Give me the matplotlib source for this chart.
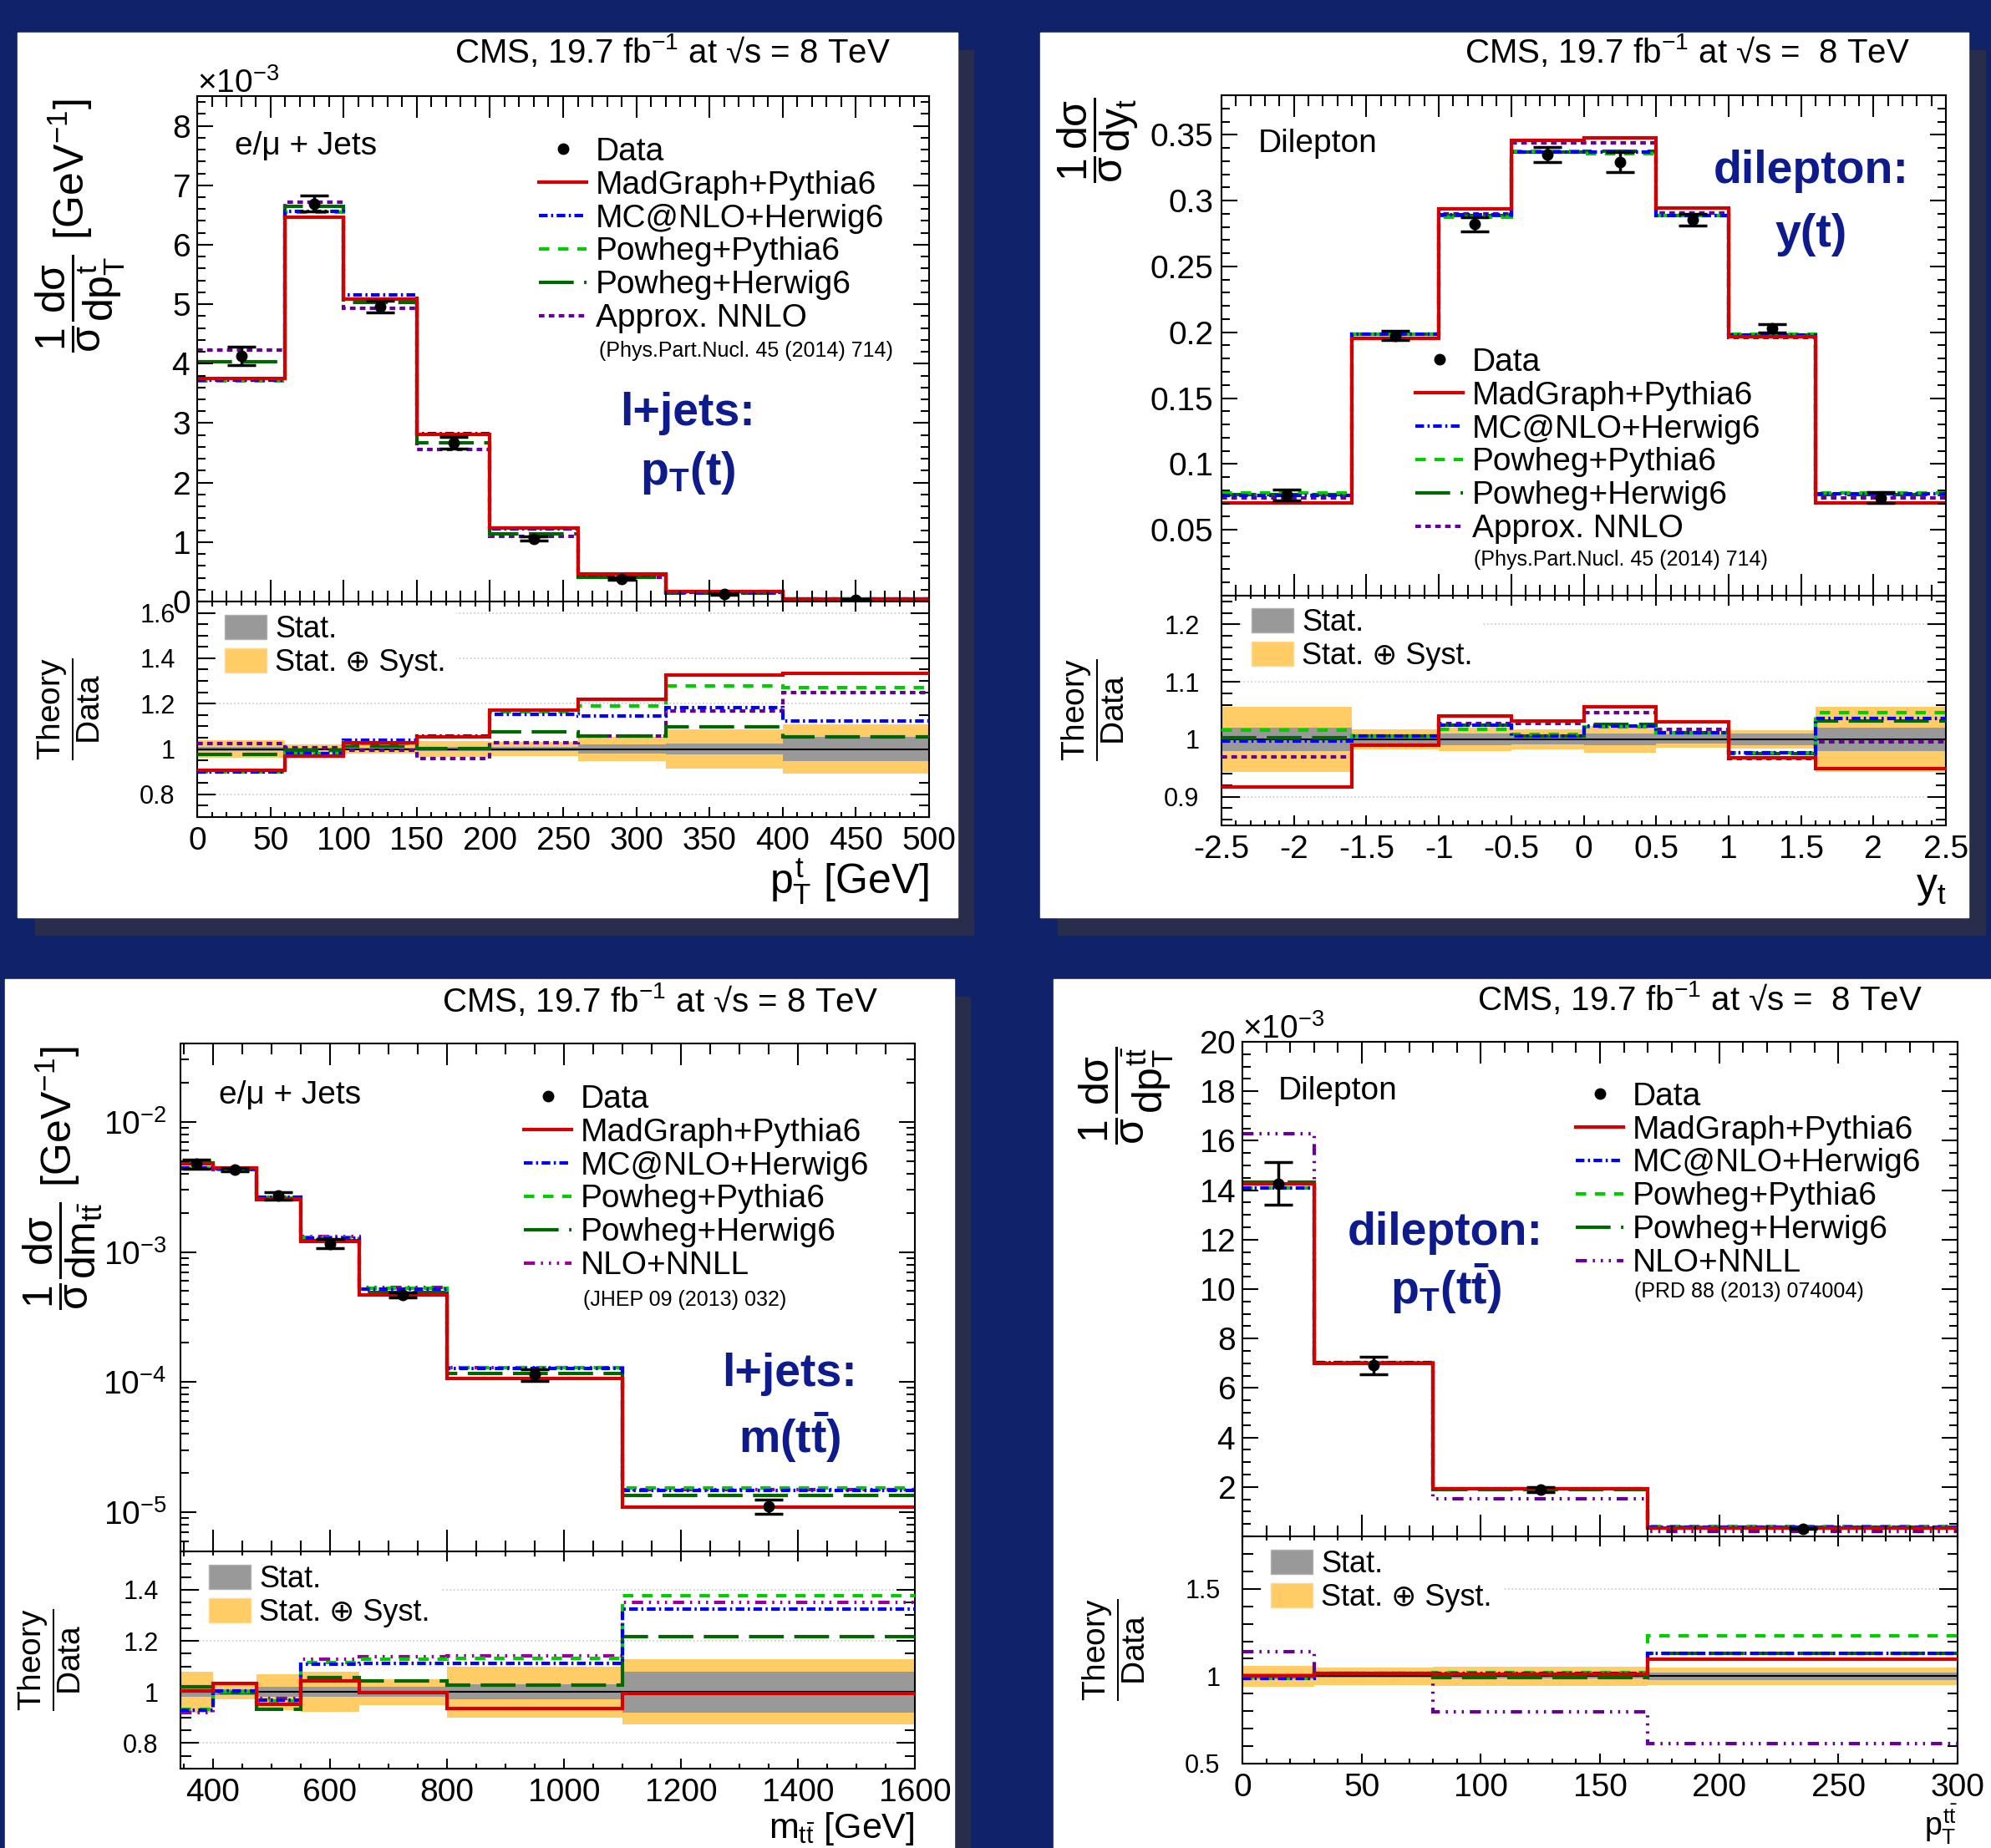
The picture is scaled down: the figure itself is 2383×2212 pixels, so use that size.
import numpy as np
import matplotlib
matplotlib.use("Agg")
import matplotlib.pyplot as plt
from matplotlib.lines import Line2D
from matplotlib.patches import Rectangle, Patch
from matplotlib.ticker import (MultipleLocator, FixedLocator, FuncFormatter,
                               ScalarFormatter, LogLocator, NullFormatter)

plt.rcParams["font.family"] = ["Liberation Sans", "DejaVu Sans"]
plt.rcParams["mathtext.fontset"] = "custom"
plt.rcParams["mathtext.rm"] = "Liberation Sans"
plt.rcParams["mathtext.it"] = "Liberation Sans"
plt.rcParams["mathtext.bf"] = "Liberation Sans:bold"
plt.rcParams["axes.unicode_minus"] = False

W, H = 2383, 2212

# ---------------- data ----------------
# l+jets, pT(t)   (data in 1/GeV, ratios = theory/data)
pt_edges = [0, 60, 100, 150, 200, 260, 320, 400, 500]
pt_data = [4.13e-3, 6.69e-3, 4.96e-3, 2.67e-3, 1.06e-3, 0.386e-3, 0.128e-3, 0.035e-3]
pt_stat = [0.008, 0.006, 0.006, 0.008, 0.010, 0.020, 0.025, 0.055]
pt_syst = [0.038, 0.020, 0.020, 0.035, 0.030, 0.055, 0.085, 0.110]
pt_madgraph = [0.907, 0.967, 1.026, 1.053, 1.172, 1.218, 1.325, 1.335]
pt_mcatnlo = [0.900, 0.980, 1.040, 1.056, 1.154, 1.147, 1.181, 1.125]
pt_powpyt = [0.897, 0.979, 1.025, 1.054, 1.165, 1.191, 1.279, 1.270]
pt_powher = [0.977, 0.993, 1.013, 1.001, 1.075, 1.059, 1.099, 1.055]
pt_nnlo = [1.025, 1.004, 0.993, 0.956, 1.028, 1.059, 1.169, 1.249]

# dilepton, y(t)
y_edges = [-2.5, -1.6, -1.0, -0.5, 0.0, 0.5, 1.0, 1.6, 2.5]
y_data = [0.0765, 0.1975, 0.2820, 0.3350, 0.3290, 0.2855, 0.2030, 0.0745]
y_stat = [0.020, 0.008, 0.010, 0.009, 0.010, 0.008, 0.010, 0.020]
y_syst = [0.057, 0.017, 0.020, 0.017, 0.023, 0.015, 0.016, 0.057]
y_madgraph = [0.917, 0.990, 1.041, 1.032, 1.056, 1.031, 0.968, 0.949]
y_mcatnlo = [0.997, 1.005, 1.025, 1.005, 1.023, 1.012, 0.976, 1.036]
y_powpyt = [1.016, 1.006, 1.018, 1.008, 1.021, 1.012, 0.977, 1.047]
y_powher = [1.003, 1.005, 1.024, 1.005, 1.026, 1.011, 0.975, 1.032]
y_nnlo = [0.969, 0.990, 1.027, 1.027, 1.046, 1.017, 0.966, 0.996]

# l+jets, m(ttbar)
m_edges = [345, 400, 475, 550, 650, 800, 1100, 1600]
m_data = [4.73e-3, 4.31e-3, 2.70e-3, 1.16e-3, 4.68e-4, 1.14e-4, 1.11e-5]
m_stat = [0.020, 0.012, 0.020, 0.020, 0.020, 0.030, 0.080]
m_syst = [0.080, 0.030, 0.070, 0.078, 0.050, 0.100, 0.127]
m_madgraph = [1.005, 1.032, 0.951, 1.043, 0.997, 0.934, 0.993]
m_mcatnlo = [0.928, 1.005, 0.969, 1.108, 1.111, 1.111, 1.325]
m_powpyt = [0.931, 1.000, 0.966, 1.115, 1.128, 1.131, 1.376]
m_powher = [1.022, 0.997, 0.931, 1.055, 1.043, 1.027, 1.216]
m_nnll = [0.920, 1.000, 0.975, 1.128, 1.137, 1.141, 1.352]

# dilepton, pT(ttbar)
ptt_edges = [0, 30, 80, 170, 300]
ptt_data = [14.27e-3, 6.91e-3, 1.90e-3, 0.32e-3]
ptt_stat = [0.015, 0.010, 0.012, 0.022]
ptt_syst = [0.060, 0.050, 0.055, 0.052]
ptt_madgraph = [1.000, 1.014, 1.011, 1.098]
ptt_mcatnlo = [0.987, 1.016, 1.014, 1.130]
ptt_powpyt = [0.987, 1.016, 1.019, 1.233]
ptt_powher = [1.003, 1.016, 0.990, 1.130]
ptt_nnll = [1.141, 1.010, 0.797, 0.614]

# tick values
y_main_ticks = [0.05, 0.1, 0.15, 0.2, 0.25, 0.3, 0.35]
ptt_main_ticks = [2e-3, 4e-3, 6e-3, 8e-3, 10e-3, 12e-3, 14e-3, 16e-3, 18e-3, 20e-3]

# ---------------- styles ----------------
NAVY = "#10226a"
SHADOW = "#272d4b"
YELLOW = "#ffcc66"
GREY = "#999999"
BLUE_TXT = "#0d1b8c"

ST_MG = dict(color="#d40000", linestyle="-", linewidth=3)
ST_MC = dict(color="#0000ff", linestyle=(0, (2.5, 1.0, 0.6, 1.0)), linewidth=3)
ST_PP = dict(color="#00cc00", linestyle=(0, (3.0, 2.5)), linewidth=3)
ST_PH = dict(color="#006600", linestyle=(0, (10, 3)), linewidth=3)
ST_NNLO = dict(color="#660099", linestyle=(0, (1.6, 1.25)), linewidth=3)
NNLL_DASH = (0, (3.2, 1.7, 0.6, 1.7, 0.6, 1.7, 0.6, 1.7))
ST_NNLL3 = dict(color="#990099", linestyle=NNLL_DASH, linewidth=3)
ST_NNLL4 = dict(color="#660099", linestyle=NNLL_DASH, linewidth=3)

fig = plt.figure(figsize=(W / 100, H / 100), dpi=100)
fig.patch.set_facecolor(NAVY)


def fx(x):
    return x / W


def fy(y):
    return 1 - y / H


def rect(x0, y0, x1, y1):
    return [x0 / W, 1 - y1 / H, (x1 - x0) / W, (y1 - y0) / H]


def box(x0, y0, x1, y1, color):
    fig.patches.append(Rectangle((x0 / W, 1 - y1 / H), (x1 - x0) / W, (y1 - y0) / H,
                                 transform=fig.transFigure, color=color, zorder=-10))


def gfmt(v, pos):
    return "%g" % round(v, 6)


def draw(ax, rax, edges, data, stat, syst, theories):
    edges = np.asarray(edges, float)
    data = np.asarray(data)
    stat = np.asarray(stat)
    syst = np.asarray(syst)
    centers = 0.5 * (edges[1:] + edges[:-1])
    for label, ratio, st in theories[::-1]:
        ax.stairs(data * np.asarray(ratio), edges, baseline=None, **st)
    ax.errorbar(centers, data, yerr=data * syst, fmt="o", color="k", ms=9,
                elinewidth=2.5, capsize=12, capthick=2.5, zorder=10)
    rax.stairs(1 + syst, edges, baseline=1 - syst, fill=True, color=YELLOW)
    rax.stairs(1 + stat, edges, baseline=1 - stat, fill=True, color=GREY)
    rax.axhline(1, color="k", lw=1.5, zorder=2)
    for label, ratio, st in theories[::-1]:
        rax.stairs(ratio, edges, baseline=None, zorder=3, **st)
    rax.yaxis.grid(True, linestyle=":", color="#c8c8c8", linewidth=1.2)
    rax.set_axisbelow(True)


def style(ax, rax, ypad_main=6, ypad_ratio=19):
    for a in (ax, rax):
        for s in a.spines.values():
            s.set_linewidth(1.5)
        a.tick_params(which="both", direction="in", top=True, right=True, width=1.5)
    ax.tick_params(axis="x", which="major", length=18.5)
    ax.tick_params(axis="x", which="minor", length=9.5)
    ax.tick_params(axis="y", which="major", length=13.5, labelsize=28, pad=ypad_main)
    ax.tick_params(axis="y", which="minor", length=7)
    ax.tick_params(labelbottom=False)
    rax.tick_params(axis="x", which="major", length=8.6, labelsize=28, pad=8)
    rax.tick_params(axis="x", which="minor", length=4.3)
    rax.tick_params(axis="y", which="major", length=16, labelsize=22, pad=ypad_ratio)
    rax.tick_params(axis="y", which="minor", length=9)
    rax.yaxis.set_major_formatter(FuncFormatter(gfmt))
    rax.xaxis.set_major_formatter(FuncFormatter(gfmt))


def main_legend(ax, last_label, x_left, y_first):
    handles = [Line2D([], [], marker="o", color="k", ls="none", ms=9),
               Line2D([], [], **ST_MG), Line2D([], [], **ST_MC),
               Line2D([], [], **ST_PP), Line2D([], [], **ST_PH),
               Line2D([], [], **last_label[1])]
    labels = ["Data", "MadGraph+Pythia6", "MC@NLO+Herwig6", "Powheg+Pythia6",
              "Powheg+Herwig6", last_label[0]]
    fs = 28 * 100 / 72
    ax.legend(handles, labels, loc="upper left",
              bbox_to_anchor=(fx(x_left), fy(y_first - 0.47 * fs)),
              bbox_transform=fig.transFigure, frameon=False, fontsize=28,
              handlelength=1.47, handletextpad=0.28, labelspacing=0.1,
              borderpad=0, borderaxespad=0)


def ratio_legend(rax, x_left, y_first):
    handles = [Patch(facecolor=GREY, edgecolor="#b0b0b0"),
               Patch(facecolor=YELLOW, edgecolor="#ffd990")]
    fs = 26 * 100 / 72
    pad = 0.3
    rax.legend(handles, ["Stat.", "Stat. \u2295 Syst."], loc="upper left",
               bbox_to_anchor=(fx(x_left - pad * fs), fy(y_first - 0.47 * fs - pad * fs)),
               bbox_transform=fig.transFigure, frameon=True, fancybox=False,
               facecolor="white", edgecolor="white", framealpha=1, fontsize=26,
               handlelength=1.39, handleheight=0.83, handletextpad=0.28,
               labelspacing=0.14, borderpad=pad, borderaxespad=0)


def header(x_right, y, text):
    fig.text(fx(x_right), fy(y), text, ha="right", va="center", fontsize=29)


def big(x, y, s):
    fig.text(fx(x), fy(y), s, ha="center", va="center", fontsize=40,
             fontweight="bold", color=BLUE_TXT)


theory_label = r"$\dfrac{\mathrm{Theory}}{\mathrm{Data}}$"

# ---------------- panel backgrounds ----------------
box(42, 60, 1165, 1119, SHADOW)
box(21, 39, 1146, 1098, "white")
box(1266, 60, 2376, 1119, SHADOW)
box(1245, 39, 2356, 1098, "white")
box(27, 1193, 1161, 2212, SHADOW)
box(6, 1172, 1142, 2212, "white")
box(1282, 1193, 2400, 2212, SHADOW)
box(1261, 1172, 2383, 2212, "white")

# ---------------- panel 1: l+jets pT(t) ----------------
ax1 = fig.add_axes(rect(236, 115, 1112, 720))
rax1 = fig.add_axes(rect(236, 720, 1112, 978), sharex=ax1)
th1 = [("MadGraph+Pythia6", pt_madgraph, ST_MG), ("MC@NLO+Herwig6", pt_mcatnlo, ST_MC),
       ("Powheg+Pythia6", pt_powpyt, ST_PP), ("Powheg+Herwig6", pt_powher, ST_PH),
       ("Approx. NNLO", pt_nnlo, ST_NNLO)]
draw(ax1, rax1, pt_edges, pt_data, pt_stat, pt_syst, th1)
style(ax1, rax1)
ax1.set_xlim(0, 500)
ax1.set_ylim(0, 8.5e-3)
ax1.xaxis.set_major_locator(MultipleLocator(50))
ax1.xaxis.set_minor_locator(MultipleLocator(10))
ax1.yaxis.set_major_locator(MultipleLocator(1e-3))
ax1.yaxis.set_minor_locator(MultipleLocator(0.2e-3))
sf = ScalarFormatter(useMathText=True)
sf.set_powerlimits((-3, -3))
ax1.yaxis.set_major_formatter(sf)
ax1.yaxis.get_offset_text().set_fontsize(28)
rax1.set_ylim(0.7, 1.65)
rax1.yaxis.set_major_locator(MultipleLocator(0.2))
rax1.yaxis.set_minor_locator(MultipleLocator(0.05))
main_legend(ax1, ("Approx. NNLO", ST_NNLO), 645, 182)
ratio_legend(rax1, 269, 753)
header(1066, 61, "CMS, 19.7 fb$^{-1}$ at \u221as = 8 TeV")
fig.text(fx(281), fy(175), "e/\u03bc + Jets", ha="left", va="center", fontsize=28)
fig.text(fx(717), fy(420), "(Phys.Part.Nucl. 45 (2014) 714)", ha="left", va="center", fontsize=18)
big(823, 495, "l+jets:")
big(823, 566, r"$\mathbf{p_{T}(t)}$")
fig.text(fx(152), fy(118), r"$\dfrac{1}{\sigma}\dfrac{d\sigma}{dp^{t}_{T}}$ [GeV$^{-1}$]",
         rotation=90, ha="right", va="top", fontsize=36)
fig.text(fx(82), fy(849), theory_label, rotation=90, ha="center", va="center", fontsize=28)
fig.text(fx(1112), fy(1055), r"$p^{t}_{T}$ [GeV]", ha="right", va="center", fontsize=36)

# ---------------- panel 2: dilepton y(t) ----------------
ax2 = fig.add_axes(rect(1462, 114, 2329, 713))
rax2 = fig.add_axes(rect(1462, 713, 2329, 988), sharex=ax2)
th2 = [("MadGraph+Pythia6", y_madgraph, ST_MG), ("MC@NLO+Herwig6", y_mcatnlo, ST_MC),
       ("Powheg+Pythia6", y_powpyt, ST_PP), ("Powheg+Herwig6", y_powher, ST_PH),
       ("Approx. NNLO", y_nnlo, ST_NNLO)]
draw(ax2, rax2, y_edges, y_data, y_stat, y_syst, th2)
style(ax2, rax2, ypad_main=7)
ax2.set_xlim(-2.5, 2.5)
ax2.set_ylim(0, 0.38)
ax2.xaxis.set_major_locator(MultipleLocator(0.5))
ax2.xaxis.set_minor_locator(MultipleLocator(0.1))
ax2.yaxis.set_major_locator(FixedLocator(y_main_ticks))
ax2.yaxis.set_minor_locator(MultipleLocator(0.01))
ax2.yaxis.set_major_formatter(FuncFormatter(gfmt))
rax2.set_ylim(0.85, 1.25)
rax2.yaxis.set_major_locator(MultipleLocator(0.1))
rax2.yaxis.set_minor_locator(MultipleLocator(0.02))
main_legend(ax2, ("Approx. NNLO", ST_NNLO), 1694, 434)
ratio_legend(rax2, 1498, 745)
header(2286, 61, "CMS, 19.7 fb$^{-1}$ at \u221as =  8 TeV")
fig.text(fx(1506), fy(172), "Dilepton", ha="left", va="center", fontsize=28)
fig.text(fx(1764), fy(670), "(Phys.Part.Nucl. 45 (2014) 714)", ha="left", va="center", fontsize=18)
big(2168, 205, "dilepton:")
big(2168, 281, "y(t)")
fig.text(fx(1365), fy(116), r"$\dfrac{1}{\sigma}\dfrac{d\sigma}{dy_{t}}$",
         rotation=90, ha="right", va="top", fontsize=36)
fig.text(fx(1308), fy(850), theory_label, rotation=90, ha="center", va="center", fontsize=28)
fig.text(fx(2329), fy(1063), r"$y_{t}$", ha="right", va="center", fontsize=36)

# ---------------- panel 3: l+jets m(ttbar) ----------------
ax3 = fig.add_axes(rect(216, 1249, 1095, 1857))
rax3 = fig.add_axes(rect(216, 1857, 1095, 2117), sharex=ax3)
th3 = [("MadGraph+Pythia6", m_madgraph, ST_MG), ("MC@NLO+Herwig6", m_mcatnlo, ST_MC),
       ("Powheg+Pythia6", m_powpyt, ST_PP), ("Powheg+Herwig6", m_powher, ST_PH),
       ("NLO+NNLL", m_nnll, ST_NNLL3)]
draw(ax3, rax3, m_edges, m_data, m_stat, m_syst, th3)
style(ax3, rax3, ypad_main=12)
ax3.set_yscale("log")
ax3.set_xlim(345, 1600)
ax3.set_ylim(5e-6, 4e-2)
ax3.xaxis.set_major_locator(MultipleLocator(200))
ax3.xaxis.set_minor_locator(MultipleLocator(50))
ax3.yaxis.set_major_locator(LogLocator(base=10))
ax3.yaxis.set_minor_locator(LogLocator(base=10, subs=np.arange(2, 10)))
ax3.yaxis.set_minor_formatter(NullFormatter())
rax3.set_ylim(0.7, 1.55)
rax3.yaxis.set_major_locator(MultipleLocator(0.2))
rax3.yaxis.set_minor_locator(MultipleLocator(0.05))
main_legend(ax3, ("NLO+NNLL", ST_NNLL3), 627, 1316)
ratio_legend(rax3, 250, 1890)
header(1051, 1197, "CMS, 19.7 fb$^{-1}$ at \u221as = 8 TeV")
fig.text(fx(262), fy(1311), "e/\u03bc + Jets", ha="left", va="center", fontsize=28)
fig.text(fx(698), fy(1556), "(JHEP 09 (2013) 032)", ha="left", va="center", fontsize=18)
big(945, 1645, "l+jets:")
big(945, 1721, r"$\mathbf{m(t\bar{t})}$")
fig.text(fx(125), fy(1252), r"$\dfrac{1}{\sigma}\dfrac{d\sigma}{dm_{t\bar{t}}}$ [GeV$^{-1}$]",
         rotation=90, ha="right", va="top", fontsize=36)
fig.text(fx(59), fy(1987), theory_label, rotation=90, ha="center", va="center", fontsize=28)
fig.text(fx(1095), fy(2167), r"$m_{t\bar{t}}$ [GeV]", ha="right", va="top", fontsize=31)

# ---------------- panel 4: dilepton pT(ttbar) ----------------
ax4 = fig.add_axes(rect(1487, 1247, 2343, 1839))
rax4 = fig.add_axes(rect(1487, 1839, 2343, 2111), sharex=ax4)
th4 = [("MadGraph+Pythia6", ptt_madgraph, ST_MG), ("MC@NLO+Herwig6", ptt_mcatnlo, ST_MC),
       ("Powheg+Pythia6", ptt_powpyt, ST_PP), ("Powheg+Herwig6", ptt_powher, ST_PH),
       ("NLO+NNLL", ptt_nnll, ST_NNLL4)]
draw(ax4, rax4, ptt_edges, ptt_data, ptt_stat, ptt_syst, th4)
style(ax4, rax4)
ax4.set_xlim(0, 300)
ax4.set_ylim(0, 20e-3)
ax4.xaxis.set_major_locator(MultipleLocator(50))
ax4.xaxis.set_minor_locator(MultipleLocator(10))
ax4.yaxis.set_major_locator(FixedLocator(ptt_main_ticks))
ax4.yaxis.set_minor_locator(MultipleLocator(0.5e-3))
sf4 = ScalarFormatter(useMathText=True)
sf4.set_powerlimits((-3, -3))
ax4.yaxis.set_major_formatter(sf4)
ax4.yaxis.get_offset_text().set_fontsize(28)
rax4.set_ylim(0.5, 1.8)
rax4.yaxis.set_major_locator(MultipleLocator(0.5))
rax4.yaxis.set_minor_locator(MultipleLocator(0.1))
main_legend(ax4, ("NLO+NNLL", ST_NNLL4), 1886, 1313)
ratio_legend(rax4, 1521, 1872)
header(2301, 1195, "CMS, 19.7 fb$^{-1}$ at \u221as =  8 TeV")
fig.text(fx(1530), fy(1306), "Dilepton", ha="left", va="center", fontsize=28)
fig.text(fx(1956), fy(1546), "(PRD 88 (2013) 074004)", ha="left", va="center", fontsize=18)
big(1730, 1476, "dilepton:")
big(1730, 1543, r"$\mathbf{p_{T}(t\bar{t})}$")
fig.text(fx(1407), fy(1252), r"$\dfrac{1}{\sigma}\dfrac{d\sigma}{dp^{t\bar{t}}_{T}}$",
         rotation=90, ha="right", va="top", fontsize=36)
fig.text(fx(1333), fy(1975), theory_label, rotation=90, ha="center", va="center", fontsize=28)
fig.text(fx(2343), fy(2158), r"$p^{t\bar{t}}_{T}$", ha="right", va="top", fontsize=27)

fig.savefig("out.png", dpi=100, facecolor=fig.get_facecolor())
